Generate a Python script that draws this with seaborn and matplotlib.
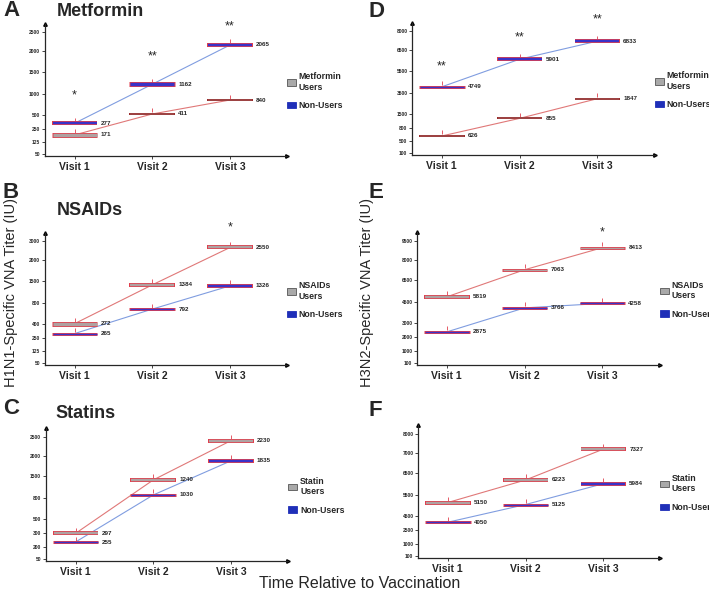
import numpy as np
import pandas as pd
import matplotlib
matplotlib.use("Agg")
import matplotlib.pyplot as plt
import matplotlib.transforms as mtransforms
from matplotlib.patches import Patch
import seaborn as sns

# --- dados (níveis lidos no eixo; rótulos = números escritos ao lado das caixas) ---
visitas = ["Visit 1", "Visit 2", "Visit 3"]

metf_h1_users = [194, 517, 850]
metf_h1_non = [350, 1216, 2166]
metf_h1_users_lbl = ["171", "411", "840"]
metf_h1_non_lbl = ["277", "1162", "2065"]
metf_h1_ticks = [50, 125, 250, 500, 1000, 1500, 2000, 2500]
metf_h1_stars = ["*", "**", "**"]

metf_h3_users = [620, 1271, 2929]
metf_h3_non = [4038, 6065, 7223]
metf_h3_users_lbl = ["626", "855", "1847"]
metf_h3_non_lbl = ["4749", "5901", "6833"]
metf_h3_ticks = [100, 500, 800, 1500, 3500, 5500, 6500, 8000]
metf_h3_stars = ["**", "**", "**"]

nsaid_h1_users = [400, 1370, 2674]
nsaid_h1_non = [296, 678, 1338]
nsaid_h1_users_lbl = ["272", "1384", "2550"]
nsaid_h1_non_lbl = ["265", "792", "1326"]
nsaid_h1_ticks = [50, 125, 250, 400, 800, 1500, 2000, 3000]
nsaid_h1_stars = ["", "", "*"]

nsaid_h3_users = [4981, 7265, 8947]
nsaid_h3_non = [2386, 4087, 4406]
nsaid_h3_users_lbl = ["5819", "7063", "8413"]
nsaid_h3_non_lbl = ["2875", "3766", "4258"]
nsaid_h3_ticks = [100, 1000, 2000, 3000, 4500, 6500, 8000, 9500]
nsaid_h3_stars = ["", "", "*"]

stat_h1_users = [300, 1380, 2397]
stat_h1_non = [235, 900, 1875]
stat_h1_users_lbl = ["297", "1240", "2230"]
stat_h1_non_lbl = ["255", "1030", "1835"]
stat_h1_ticks = [50, 200, 300, 500, 800, 1500, 2000, 2500]
stat_h1_stars = ["", "", ""]

stat_h3_users = [5147, 6191, 7187]
stat_h3_non = [3643, 5051, 6021]
stat_h3_users_lbl = ["5150", "6223", "7327"]
stat_h3_non_lbl = ["4050", "5125", "5984"]
stat_h3_ticks = [100, 1000, 2500, 4500, 5500, 6500, 7000, 8000]
stat_h3_stars = ["", "", ""]

# --- layout (pixels of a 709x596 figure) ---
W, H = 709, 596
TICK_H = [0, 12, 25.3, 39.6, 60.6, 82.5, 103, 122]   # tick spacing in px
VISIT_PX0, VISIT_STEP, HALF_W = 29.5, 77.75, 22

paineis = [
    # letra, titulo, droga, users, non, lbl_u, lbl_n, ticks, stars, (left, xaxis, tick0, top, right), star offsets, thickness
    ("A", "Metformin", "Metformin", metf_h1_users, metf_h1_non, metf_h1_users_lbl, metf_h1_non_lbl,
     metf_h1_ticks, metf_h1_stars, (45, 156, 154.3, 24, 287), [28, 28, 19], ([5, 2, 2], [4, 5, 4])),
    ("D", None, "Metformin", metf_h3_users, metf_h3_non, metf_h3_users_lbl, metf_h3_non_lbl,
     metf_h3_ticks, metf_h3_stars, (412.3, 155, 153.3, 22.7, 655), [20, 22, 22], ([2, 2, 2], [3, 4, 4])),
    ("B", "NSAIDs", "NSAIDs", nsaid_h1_users, nsaid_h1_non, nsaid_h1_users_lbl, nsaid_h1_non_lbl,
     nsaid_h1_ticks, nsaid_h1_stars, (45, 365, 363.3, 233, 287), [0, 0, 20], ([5, 4, 4], [3, 3, 4])),
    ("E", None, "NSAIDs", nsaid_h3_users, nsaid_h3_non, nsaid_h3_users_lbl, nsaid_h3_non_lbl,
     nsaid_h3_ticks, nsaid_h3_stars, (417.3, 364.5, 362.7, 232.3, 660), [0, 0, 15], ([4, 3, 3], [3, 3, 3])),
    ("C", "Statins", "Statin", stat_h1_users, stat_h1_non, stat_h1_users_lbl, stat_h1_non_lbl,
     stat_h1_ticks, stat_h1_stars, (46, 560.5, 558.7, 428, 288.3), [0, 0, 0], ([4, 4, 4], [3, 3, 4])),
    ("F", None, "Statin", stat_h3_users, stat_h3_non, stat_h3_users_lbl, stat_h3_non_lbl,
     stat_h3_ticks, stat_h3_stars, (418.3, 558, 555.7, 425, 660), [0, 0, 0], ([4, 4, 4], [3, 3, 4])),
]

letras_pos = {"A": (3, 11), "D": (368, 11.5), "B": (3, 192), "E": (368, 192), "C": (3, 409), "F": (368, 410)}
titulo_pos = {"A": (57, 12), "B": (57, 210.5), "C": (55, 414)}

COR_U_FILL, COR_N_FILL = "#aea2a2", "#3a33c8"
COR_EDGE, COR_EDGE_THIN = "#e0404e", "#9a2c2c"
COR_LINE_U, COR_LINE_N = "#e07878", "#809de0"


def escala(vals, pos):
    vals = np.asarray(vals, float)
    pos = np.asarray(pos, float)

    def conv(v, a, b):
        v = np.asarray(v, float)
        out = np.interp(v, a, b)
        s0 = (b[1] - b[0]) / (a[1] - a[0])
        s1 = (b[-1] - b[-2]) / (a[-1] - a[-2])
        out = np.where(v < a[0], b[0] + (v - a[0]) * s0, out)
        out = np.where(v > a[-1], b[-1] + (v - a[-1]) * s1, out)
        return out

    return (lambda v: conv(v, vals, pos)), (lambda p: conv(p, pos, vals))


sns.set_style("ticks")
plt.rcParams["font.family"] = ["Liberation Sans", "DejaVu Sans"]

fig = plt.figure(figsize=(W / 100, H / 100), dpi=100)

for (letra, titulo, droga, users, non, lbl_u, lbl_n, ticks, stars,
     (left, xaxis, tick0, top, right), star_off, (thick_u, thick_n)) in paineis:
    ax = fig.add_axes([left / W, 1 - xaxis / H, (right - left) / W, (xaxis - top) / H])
    fwd, inv = escala(ticks, TICK_H)
    ax.set_yscale("function", functions=(fwd, inv))

    x = np.arange(len(visitas))
    df = pd.DataFrame({
        "visit": np.concatenate([x, x]),
        "level": users + non,
        "grupo": ["Users"] * 3 + ["Non-Users"] * 3,
    })
    sns.lineplot(data=df, x="visit", y="level", hue="grupo",
                 palette={"Users": COR_LINE_U, "Non-Users": COR_LINE_N},
                 legend=False, linewidth=0.8, ax=ax, zorder=1)

    hw = HALF_W / VISIT_STEP
    whisk = mtransforms.offset_copy(ax.transData, fig=fig, x=0, y=3.5, units="dots")
    for vals, lbls, fill, thick in [(users, lbl_u, COR_U_FILL, thick_u), (non, lbl_n, COR_N_FILL, thick_n)]:
        for xi, v, lb, t in zip(x, vals, lbls, thick):
            edge = COR_EDGE_THIN if t <= 2 else COR_EDGE
            ax.plot([xi], [v], ls="none", marker="|", ms=3.5, mew=0.6, color=COR_EDGE,
                    transform=whisk, zorder=2)
            ax.hlines(v, xi - hw - 0.01, xi + hw + 0.01, lw=t * 0.72, color=edge, zorder=3)
            ax.hlines(v, xi - hw, xi + hw, lw=max(t - 1.6, 0.3) * 0.72, color=fill, zorder=4)
            ax.annotate(lb, (xi + hw, v), xytext=(4, 0), textcoords="offset pixels",
                        ha="left", va="center", fontsize=4.5, fontweight="bold")

    for xi, s, off, u, n in zip(x, stars, star_off, users, non):
        if s:
            ax.annotate(s, (xi, max(u, n)), xytext=(0, off), textcoords="offset pixels",
                        ha="center", va="center", fontsize=9)

    ax.set_yticks(ticks)
    ax.set_yticklabels([str(t) for t in ticks], fontsize=3.5, fontweight="bold")
    ax.minorticks_off()
    ax.set_ylim(inv(tick0 - xaxis), inv(tick0 - top))
    ax.set_xlim(-VISIT_PX0 / VISIT_STEP, ((right - left) - VISIT_PX0) / VISIT_STEP)
    ax.set_xticks(x)
    ax.set_xticklabels(visitas, fontsize=7.5, fontweight="bold")
    ax.tick_params(axis="y", length=2.5, width=0.6, pad=1)
    ax.tick_params(axis="x", length=2.5, width=0.6, pad=2)
    ax.set_xlabel("")
    ax.set_ylabel("")
    for lado in ["top", "right"]:
        ax.spines[lado].set_visible(False)
    for lado in ["left", "bottom"]:
        ax.spines[lado].set_linewidth(0.9)
    ax.plot(0, 1, "^k", ms=2.5, transform=ax.transAxes, clip_on=False)
    ax.plot(1, 0, ">k", ms=2.5, transform=ax.transAxes, clip_on=False)

    handles = [Patch(facecolor="#a9a9a9", edgecolor="#555555", linewidth=0.6),
               Patch(facecolor="#1f2fb8", edgecolor="#1f2fb8", linewidth=0.6)]
    ax.legend(handles, [f"{droga}\nUsers", "Non-Users"], loc="center left",
              bbox_to_anchor=(1.0, 0.49), frameon=False,
              prop={"size": 6.3, "weight": "bold"}, handlelength=1.0, handleheight=0.75,
              handletextpad=0.35, labelspacing=1.1, borderaxespad=0, borderpad=0)

    lx, ly = letras_pos[letra]
    fig.text(lx / W, 1 - ly / H, letra, fontsize=16, fontweight="bold", ha="left", va="center")
    if titulo:
        tx, ty = titulo_pos[letra]
        fig.text(tx / W, 1 - ty / H, titulo, fontsize=13, fontweight="bold", ha="left", va="center")

fig.text(11 / W, 1 - 292 / H, "H1N1-Specific VNA Titer (IU)", rotation=90, fontsize=10.5,
         ha="center", va="center")
fig.text(367 / W, 1 - 292 / H, "H3N2-Specific VNA Titer (IU)", rotation=90, fontsize=10.5,
         ha="center", va="center")
fig.text(360 / W, 1 - 583 / H, "Time Relative to Vaccination", fontsize=11.5, ha="center", va="center")

fig.savefig("out.png", dpi=100)
